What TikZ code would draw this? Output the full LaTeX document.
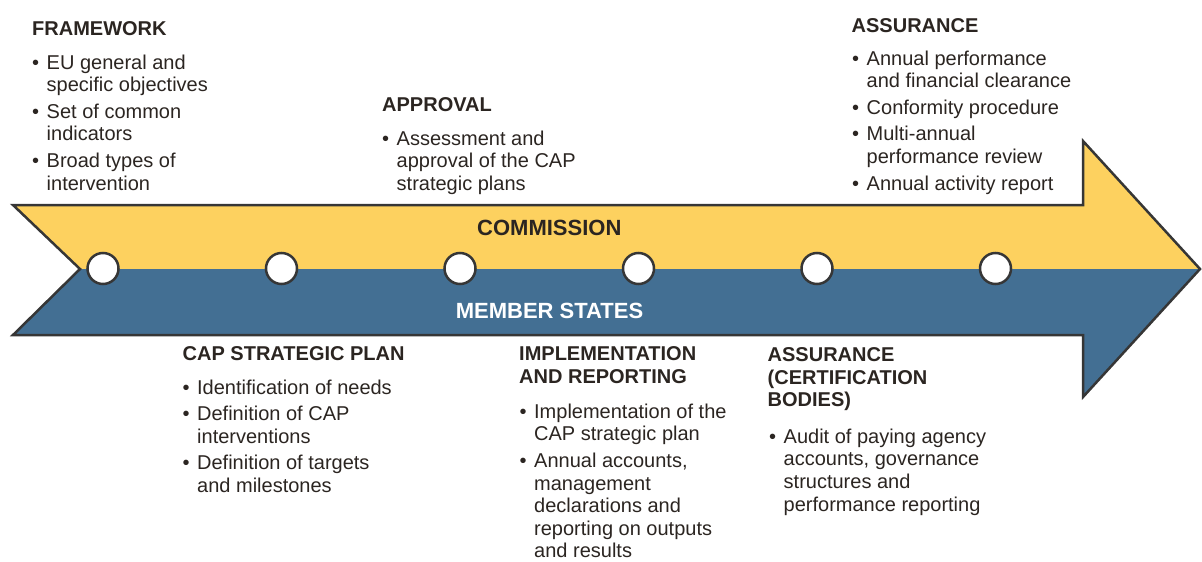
\documentclass[tikz,border=0pt]{standalone}
\usepackage{fontspec}
\setmainfont{Liberation Sans}
\definecolor{yel}{HTML}{FDD15F}
\definecolor{blu}{HTML}{436F93}
\definecolor{edgec}{HTML}{363636}
\definecolor{ink}{HTML}{2B2521}
\newcommand\bitem[1]{\par\hangindent=14.5pt\hangafter=1\noindent\makebox[14.5pt][l]{•}#1}
\newcommand\blist[1]{\parbox[t]{320pt}{\fontsize{20}{22.6}\selectfont\parskip=4pt #1}}
\newcommand\bhead[1]{\parbox[t]{320pt}{\bfseries\fontsize{20}{22.6}\selectfont #1}}
\tikzset{
  hd/.style={anchor=base west, inner sep=0pt, text=ink},
  lst/.style={anchor=base west, inner sep=0pt, text=ink},
  band/.style={font=\bfseries\fontsize{22}{26}\selectfont, anchor=base, inner sep=0pt},
  dot/.style={circle, draw=edgec, line width=2.5pt, fill=white, minimum size=31pt, inner sep=0pt}
}
\begin{document}
\begin{tikzpicture}[x=1pt, y=-1pt]
\useasboundingbox (0,0) rectangle (1202,562);
% arrow halves
\fill[yel] (13,205) -- (1083,205) -- (1083,141) -- (1200,269) -- (80,269) -- cycle;
\fill[blu] (80,269) -- (1200,269) -- (1083,397) -- (1083,335) -- (13,335) -- cycle;
\draw[edgec, line width=2.5pt, line join=miter]
  (13,205) -- (1083,205) -- (1083,141) -- (1200,269) -- (1083,397) -- (1083,335) -- (13,335) -- (80,269) -- cycle;
% band labels
\node[band, text=ink] (com) at (549.3,235) {COMMISSION};
\node[band, text=white] (ms) at (549.5,318.3) {MEMBER STATES};
% milestones
\foreach \i/\x in {1/103,2/281.5,3/460,4/638.5,5/817,6/995.5}
  \node[dot] (c\i) at (\x,268.5) {};
% top blocks
\node[hd] (h1) at (32,35) {\bhead{FRAMEWORK}};
\node[lst] (l1) at (32,69) {\blist{%
  \bitem{EU general and\\specific objectives}%
  \bitem{Set of common\\indicators}%
  \bitem{Broad types of\\intervention}}};
\node[hd] (h2) at (382,111.7) {\bhead{APPROVAL}};
\node[lst] (l2) at (382,145) {\blist{%
  \bitem{Assessment and\\approval of the CAP\\strategic plans}}};
\node[hd] (h3) at (851.5,32) {\bhead{ASSURANCE}};
\node[lst] (l3) at (852,65) {\blist{%
  \bitem{Annual performance\\and financial clearance}%
  \bitem{Conformity procedure}%
  \bitem{Multi-annual\\performance review}%
  \bitem{Annual activity report}}};
% bottom blocks
\node[hd] (h4) at (182.5,360.7) {\bhead{CAP STRATEGIC PLAN}};
\node[lst] (l4) at (182.5,394) {\blist{%
  \bitem{Identification of needs}%
  \bitem{Definition of CAP\\interventions}%
  \bitem{Definition of targets\\and milestones}}};
\node[hd] (h5) at (519,360.7) {\bhead{IMPLEMENTATION\\AND REPORTING}};
\node[lst] (l5) at (519.5,418.3) {\blist{%
  \bitem{Implementation of the\\CAP strategic plan}%
  \bitem{Annual accounts,\\management\\declarations and\\reporting on outputs\\and results}}};
\node[hd] (h6) at (767.5,361.7) {\bhead{ASSURANCE\\(CERTIFICATION\\BODIES)}};
\node[lst] (l6) at (769,443.3) {\blist{%
  \bitem{Audit of paying agency\\accounts, governance\\structures and\\performance reporting}}};
\end{tikzpicture}
\end{document}
